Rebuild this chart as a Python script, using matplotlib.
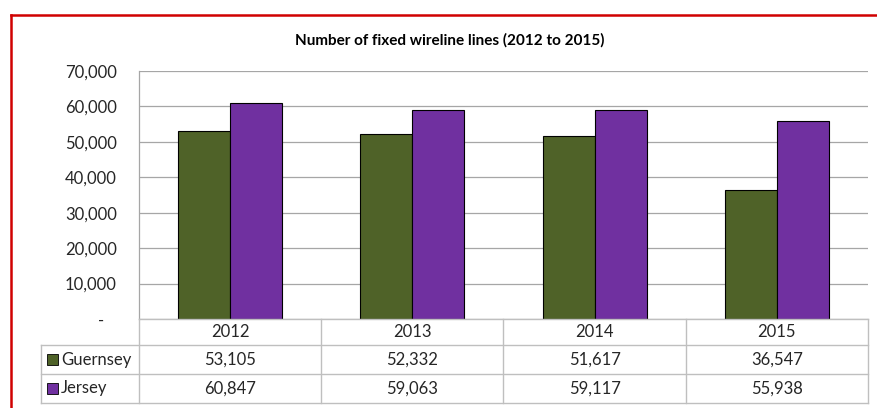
import matplotlib
matplotlib.use('Agg')
import matplotlib.pyplot as plt
import numpy as np
from matplotlib.lines import Line2D
from matplotlib.patches import Rectangle

years = ['2012', '2013', '2014', '2015']
series_names = ['Guernsey', 'Jersey']
guernsey = [53105, 52332, 51617, 36547]
jersey = [60847, 59063, 59117, 55938]
yticks = [0, 10000, 20000, 30000, 40000, 50000, 60000, 70000]
title = 'Number of fixed wireline lines (2012 to 2015)'

colors = ['#4F6228', '#7030A0']
grid_col = '#A6A6A6'
tbl_col = '#BFBFBF'
txt_col = '#262626'
fs = 12

plt.rcParams['font.family'] = ['Lato', 'DejaVu Sans']

W, H = 877, 408
fig = plt.figure(figsize=(W / 100, H / 100), dpi=100)

def fx(px):
  return px / W

def fy(py):
  return 1 - py / H

# plot area in pixels
L, R, T, B = 139, 868, 71, 319
ax = fig.add_axes([fx(L), fy(B), fx(R - L), fy(T) - fy(B)])

x = np.arange(len(years))
bw = 0.285
ax.bar(x - bw / 2, guernsey, bw, color=colors[0], edgecolor='black', linewidth=0.8, zorder=3)
ax.bar(x + bw / 2, jersey, bw, color=colors[1], edgecolor='black', linewidth=0.8, zorder=3)

ax.set_xlim(-0.5, len(years) - 0.5)
ax.set_ylim(0, 70000)
ax.set_yticks(yticks)
# accounting style: zero shown as a dash, indented
ax.set_yticklabels(['-   ' if v == 0 else '{:,}'.format(v) for v in yticks], fontsize=fs, color=txt_col)
ax.tick_params(axis='y', length=0, pad=16)
ax.set_xticks([])
ax.yaxis.grid(True, color=grid_col, linewidth=0.9, zorder=0)
for s in ['top', 'right', 'bottom']:
  ax.spines[s].set_visible(False)
ax.spines['left'].set_color(grid_col)
ax.spines['left'].set_linewidth(0.9)

# title
fig.text(fx(450), fy(40), title, ha='center', va='center', fontsize=11, fontweight='bold', color='black')

# data table
row_y = [319, 345, 374, 403]
col_x = [L + (R - L) * i / len(years) for i in range(len(years) + 1)]
tl = 41

def hline(y, x0, x1):
  fig.add_artist(Line2D([fx(x0), fx(x1)], [fy(y), fy(y)], color=tbl_col, linewidth=1.0))

def vline(x_, y0, y1):
  fig.add_artist(Line2D([fx(x_), fx(x_)], [fy(y0), fy(y1)], color=tbl_col, linewidth=1.0))

hline(row_y[0], L, R)
for y in row_y[1:]:
  hline(y, tl, R)
for cx in col_x:
  vline(cx, row_y[0], row_y[-1])
vline(tl, row_y[1], row_y[-1])

for i, yr in enumerate(years):
  cx = (col_x[i] + col_x[i + 1]) / 2
  fig.text(fx(cx), fy((row_y[0] + row_y[1]) / 2), yr, ha='center', va='center', fontsize=fs, color=txt_col)

for r, (name, vals) in enumerate(zip(series_names, [guernsey, jersey])):
  cy = (row_y[r + 1] + row_y[r + 2]) / 2
  fig.add_artist(Rectangle((fx(47), fy(cy + 5.5)), fx(11), fy(cy - 5.5) - fy(cy + 5.5),
                           facecolor=colors[r], edgecolor='black', linewidth=0.6))
  fig.text(fx(61), fy(cy), name, ha='left', va='center', fontsize=fs, color=txt_col)
  for i, v in enumerate(vals):
    cx = (col_x[i] + col_x[i + 1]) / 2
    fig.text(fx(cx), fy(cy), '{:,}'.format(v), ha='center', va='center', fontsize=fs, color=txt_col)

# red outer frame (left and top edges visible)
fig.add_artist(Line2D([fx(10.5), fx(10.5)], [fy(15), 0], color='#D00000', linewidth=1.8))
fig.add_artist(Line2D([fx(10.5), 1], [fy(15), fy(15)], color='#D00000', linewidth=1.8))

fig.savefig('out.png', dpi=100)
